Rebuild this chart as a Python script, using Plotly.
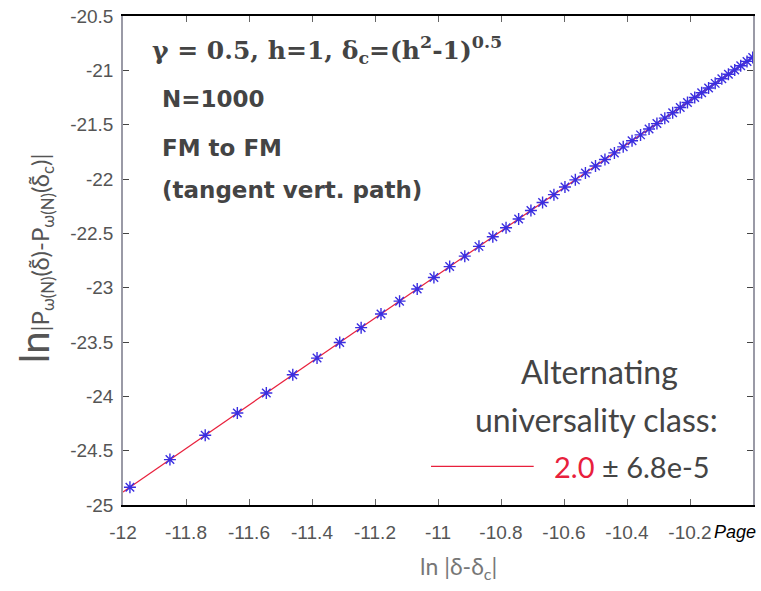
import plotly.graph_objects as go

# ln|delta - delta_c|
x_data = [-11.978, -11.851, -11.739, -11.637, -11.545, -11.461, -11.384, -11.312,
          -11.244, -11.181, -11.122, -11.066, -11.013, -10.963, -10.915, -10.870,
          -10.826, -10.784, -10.744, -10.705, -10.668, -10.632, -10.597, -10.564,
          -10.532, -10.500, -10.470, -10.440, -10.412, -10.384, -10.357, -10.330,
          -10.305, -10.280, -10.255, -10.231, -10.208, -10.185, -10.163, -10.141,
          -10.120, -10.099, -10.078, -10.058, -10.039, -10.019, -10.001]
# ln|P(delta) - P(delta_c)|
y_data = [-24.836, -24.582, -24.358, -24.154, -23.970, -23.802, -23.648, -23.504,
          -23.368, -23.242, -23.124, -23.012, -22.906, -22.806, -22.710, -22.620,
          -22.532, -22.448, -22.368, -22.290, -22.216, -22.144, -22.074, -22.008,
          -21.944, -21.880, -21.820, -21.760, -21.704, -21.648, -21.594, -21.540,
          -21.490, -21.440, -21.390, -21.342, -21.296, -21.250, -21.206, -21.162,
          -21.120, -21.078, -21.036, -20.996, -20.958, -20.918, -20.882]
# linear fit (slope 2.0)
fit_x = [-12.0, -9.99]
fit_y = [-24.88, -20.86]

x_ticks = [-12, -11.8, -11.6, -11.4, -11.2, -11, -10.8, -10.6, -10.4, -10.2]
x_labels = ["-12", "-11.8", "-11.6", "-11.4", "-11.2", "-11", "-10.8", "-10.6", "-10.4", "-10.2"]
y_ticks = [-25, -24.5, -24, -23.5, -23, -22.5, -22, -21.5, -21, -20.5]
y_labels = ["-25", "-24.5", "-24", "-23.5", "-23", "-22.5", "-22", "-21.5", "-21", "-20.5"]

TXT = "#444444"
RED = "#e8203c"
BLUE = "#3a2ee0"

fig = go.Figure()
fig.add_trace(go.Scatter(x=fit_x, y=fit_y, mode="lines",
                         line=dict(color=RED, width=1.2), showlegend=False))
fig.add_trace(go.Scatter(x=x_data, y=y_data, mode="markers",
                         marker=dict(symbol="asterisk-open", size=10, color=BLUE,
                                     line=dict(color=BLUE, width=1.4)),
                         showlegend=False))

tickfont = dict(family="Liberation Sans", size=19, color="#555")
fig.update_layout(
    width=761, height=591,
    margin=dict(l=123, r=6, t=12, b=86),
    paper_bgcolor="white", plot_bgcolor="white",
    font=dict(family="Lato", color=TXT),
    xaxis=dict(range=[-12, -10], tickvals=x_ticks, ticktext=x_labels,
               ticks="inside", ticklen=6, tickcolor="#666", showgrid=False,
               zeroline=False, showline=True, linecolor="black", linewidth=1.5,
               mirror="ticks", tickfont=tickfont, ticklabelstandoff=9),
    yaxis=dict(range=[-25, -20.5], tickvals=y_ticks, ticktext=y_labels,
               ticks="inside", ticklen=6, tickcolor="#444", showgrid=False,
               zeroline=False, showline=True, linecolor="#9a9aa6", linewidth=1.5,
               mirror="ticks", tickfont=tickfont, ticklabelstandoff=4),
)

ann = []
def add(text, x, y, size, xanchor="left", color=TXT, family="Lato", angle=0):
    ann.append(dict(text=text, x=x, y=y, xref="paper", yref="paper",
                    xanchor=xanchor, yanchor="middle", showarrow=False,
                    textangle=angle, font=dict(size=size, color=color, family=family)))

W, H = 761 - 123 - 6, 591 - 12 - 86
def px(xp): return (xp - 123) / W
def py(yp): return 1 - (yp - 12) / H

DV = "DejaVu Sans"
add("<b>γ = 0.5, h=1, δ<sub>c</sub>=(h<sup>2</sup>-1)<sup>0.5</sup></b>", px(150), py(46), 25, family="DejaVu Serif")
add("<b>N=1000</b>", px(160), py(96), 23, family=DV)
add("<b>FM to FM</b>", px(160), py(145), 23, family=DV)
add("<b>(tangent vert. path)</b>", px(160), py(187), 23, family=DV)
add("Alternating", px(601), py(370), 32, xanchor="center")
add("universality class:", px(598), py(419), 32, xanchor="center")
add("<span style='color:%s'>2.0</span> ± 6.8e-5" % RED, px(553), py(466), 29)
add("<i>Page</i>", px(714), py(532), 18, color="black", family="Liberation Sans")
add("ln |δ-δ<sub>c</sub>|", px(460), py(568), 23, xanchor="center", color="#777")
add("<span style='font-size:40px'>ln</span>|P<sub>ω(N)</sub>(δ̃)-P<sub>ω(N)</sub>(δ̃<sub>c</sub>)|",
    px(34), py(256), 24, xanchor="center", angle=-90, color="#555")
fig.update_layout(annotations=ann)

# legend sample line
fig.add_shape(type="line", xref="paper", yref="paper",
              x0=px(432), x1=px(535), y0=py(466), y1=py(466),
              line=dict(color=RED, width=1.2))

fig.write_html("out.html")
